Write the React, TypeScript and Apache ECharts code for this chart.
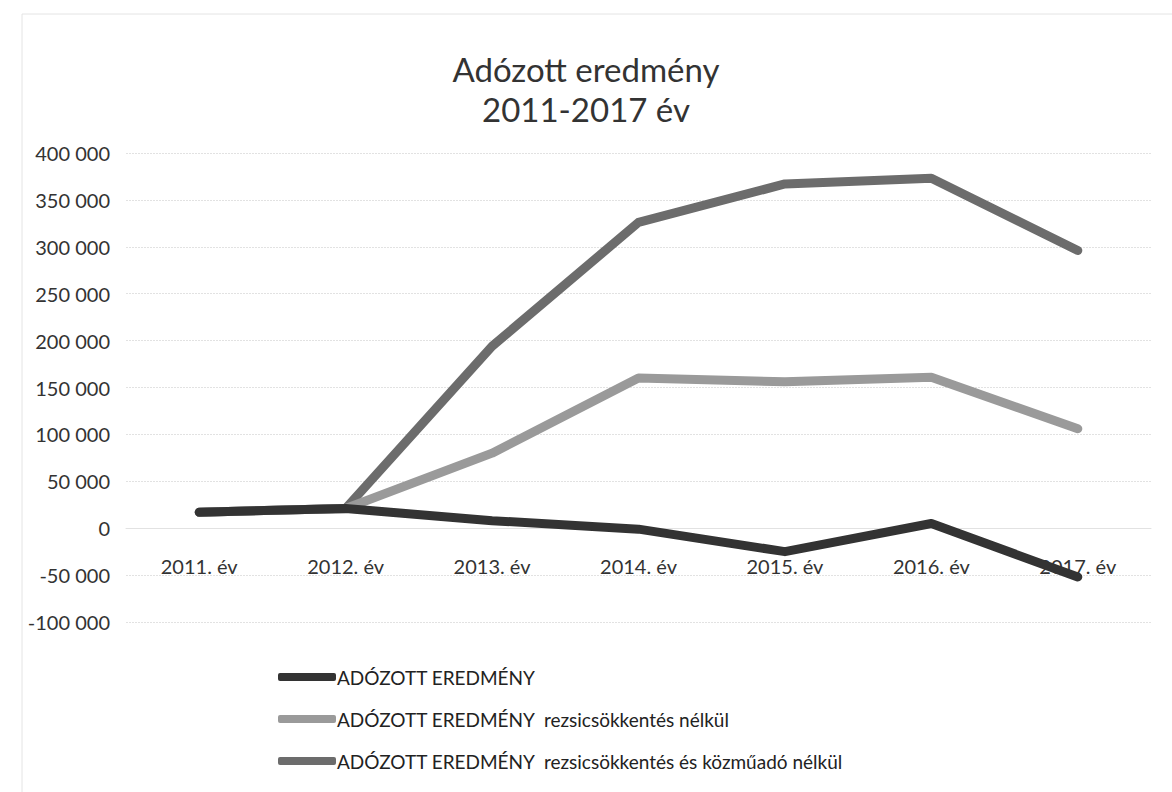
import React, { useEffect, useRef } from "react";
import * as echarts from "echarts";

const categories = ["2011. év", "2012. év", "2013. év", "2014. év", "2015. év", "2016. év", "2017. év"];
const seriesNames = [
  "ADÓZOTT EREDMÉNY",
  "ADÓZOTT EREDMÉNY  rezsicsökkentés nélkül",
  "ADÓZOTT EREDMÉNY  rezsicsökkentés és közműadó nélkül",
];
const adozott = [17000, 21000, 8000, -1000, -25000, 5000, -52000];
const rezsiNelkul = [17000, 21000, 80000, 160000, 156000, 161000, 106000];
const rezsiKozmuNelkul = [17000, 21000, 194000, 326000, 367000, 373000, 296000];
const colors = ["#333333", "#9a9a9a", "#6c6c6c"];
const yMin = -100000;
const yMax = 400000;

const fmt = (v: number) => {
  const s = Math.abs(v).toString().replace(/\B(?=(\d{3})+(?!\d))/g, " ");
  return (v < 0 ? "-" : "") + s;
};

export default function App() {
  const ref = useRef<HTMLDivElement>(null);
  useEffect(() => {
    if (!ref.current) return;
    const chart = echarts.init(ref.current, null, { renderer: "svg" });
    const font = "Lato, 'Open Sans', sans-serif";
    const gridTop = 153;
    const gridBottom = 170;
    const plotH = 792 - gridTop - gridBottom;
    const zeroOffset = -Math.round((plotH * (0 - yMin)) / (yMax - yMin));
    const mk = (name: string, data: number[], color: string, z: number) => ({
      name,
      type: "line",
      data,
      z,
      symbol: "none",
      lineStyle: { color, width: 9, cap: "round", join: "round" },
      itemStyle: { color },
    });
    chart.setOption({
      animation: false,
      backgroundColor: "#ffffff",
      title: {
        text: "Adózott eredmény\n2011-2017 év",
        left: "center",
        top: 44,
        textStyle: { fontFamily: font, fontSize: 33, fontWeight: "normal", color: "#333", lineHeight: 40 },
      },
      graphic: [
        {
          type: "rect",
          shape: { x: 22, y: 14, width: 1200, height: 800 },
          style: { fill: "none", stroke: "#e4e4e4", lineWidth: 1 },
        },
      ],
      legend: {
        orient: "vertical",
        left: 278,
        top: 666,
        padding: 0,
        itemGap: 20,
        itemWidth: 58,
        itemHeight: 8,
        icon: "roundRect",
        textStyle: { fontFamily: font, fontSize: 19, color: "#222", lineHeight: 22, padding: [0, 0, 0, -4] },
        data: seriesNames,
      },
      grid: { left: 126, right: 21, top: gridTop, bottom: gridBottom, containLabel: false },
      xAxis: {
        type: "category",
        data: categories,
        boundaryGap: true,
        position: "bottom",
        offset: zeroOffset,
        axisLine: { show: true, onZero: false, lineStyle: { color: "#e2e2e2", width: 1 } },
        axisTick: { show: false },
        axisLabel: { fontFamily: font, fontSize: 20, color: "#333", margin: 28 },
        splitLine: { show: false },
      },
      yAxis: {
        type: "value",
        min: yMin,
        max: yMax,
        interval: 50000,
        axisLine: { show: false },
        axisTick: { show: false },
        axisLabel: {
          fontFamily: font,
          fontSize: 20,
          color: "#333",
          margin: 16,
          padding: [8, 0, 0, 0],
          formatter: (v: number) => fmt(v),
        },
        splitLine: { lineStyle: { color: "#e2e2e2", width: 1, type: [2, 1] } },
      },
      series: [
        mk(seriesNames[2], rezsiKozmuNelkul, colors[2], 2),
        mk(seriesNames[1], rezsiNelkul, colors[1], 3),
        mk(seriesNames[0], adozott, colors[0], 4),
      ],
    });
    return () => chart.dispose();
  }, []);
  return (
    <div
      ref={ref}
      style={{ position: "fixed", left: 0, top: 0, width: 1172, height: 792 }}
    />
  );
}
